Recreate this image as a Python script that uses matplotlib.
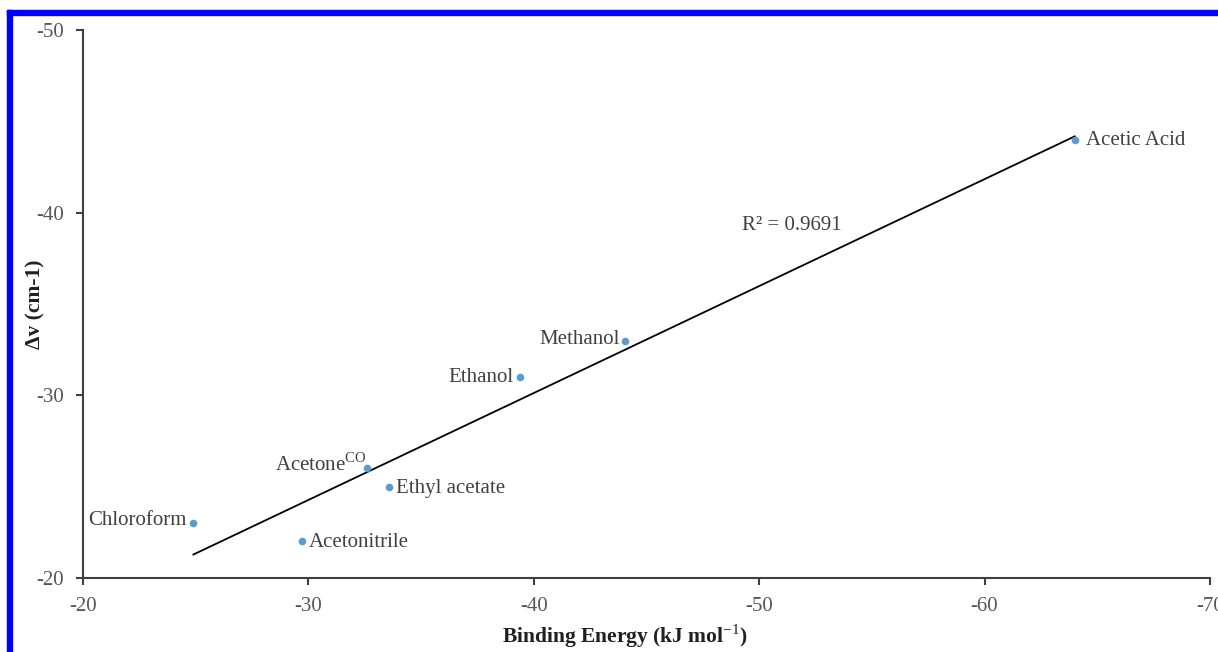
import numpy as np
import matplotlib
matplotlib.use('Agg')
import matplotlib.pyplot as plt
from matplotlib.patches import Rectangle

plt.rcParams['font.family'] = ['Liberation Serif', 'DejaVu Serif']
plt.rcParams['mathtext.fontset'] = 'custom'
plt.rcParams['mathtext.rm'] = 'Liberation Serif'
plt.rcParams['mathtext.bf'] = 'Liberation Serif:bold'
plt.rcParams['axes.unicode_minus'] = False

# data
solvents = ['Chloroform', 'Acetonitrile', 'Acetone$^{\\mathrm{CO}}$', 'Ethyl acetate',
            'Ethanol', 'Methanol', 'Acetic Acid']
binding_energy = [-24.9, -29.7, -32.6, -33.6, -39.4, -44.05, -64.0]
delta_nu = [-23.0, -22.0, -26.0, -25.0, -31.0, -33.0, -44.0]
r2_text = 'R² = 0.9691'
xticks = [-20, -30, -40, -50, -60, -70]
yticks = [-20, -30, -40, -50]

# label offsets in points, and alignment
label_pos = [(-5, 2, 'right'), (5, -1, 'left'), (0, 3, 'right'), (5, -1.5, 'left'),
             (-5, 0, 'right'), (-4, 1, 'right'), (8, -1, 'left')]

textgray = '#404040'
fig = plt.figure(figsize=(12.18, 6.52), dpi=100)
ax = fig.add_axes([0.0681, 0.1135, 0.9253, 0.8405])

x = np.array(binding_energy)
y = np.array(delta_nu)
k, b = np.polyfit(x, y, 1)
xl = np.array([x.min(), x.max()])
ax.plot(xl, k * xl + b, color='black', lw=1.3, zorder=2)
ax.scatter(x, y, s=30, color='#5B9BD5', zorder=3, linewidths=0)

for name, xi, yi, (dx, dy, ha) in zip(solvents, x, y, label_pos):
    ax.annotate(name, (xi, yi), xytext=(dx, dy), textcoords='offset points',
                ha=ha, va='center', fontsize=15, color=textgray)

ax.text(-49.25, -39.3, r2_text, ha='left', va='center', fontsize=15, color=textgray)

ax.set_xlim(-20, -70)
ax.set_ylim(-20, -50)
ax.set_xticks(xticks)
ax.set_yticks(yticks)
ax.tick_params(labelsize=15, labelcolor='#555555', color='#404040', length=5, width=1.5,
               direction='out', pad=9)
for s in ['top', 'right']:
    ax.spines[s].set_visible(False)
for s in ['left', 'bottom']:
    ax.spines[s].set_color('#404040')
    ax.spines[s].set_linewidth(1.5)

ax.set_xlabel('Binding Energy (kJ mol$^{\\mathrm{-1}}$)', fontsize=15.5, fontweight='bold',
              color='#202020')
ax.xaxis.set_label_coords(0.481, -0.081)
ax.set_ylabel('Δv (cm-1)', fontsize=15.5, fontweight='bold', color='#202020')
ax.yaxis.set_label_coords(-0.033, 0.5)

# blue frame at top and left
fig.patches.append(Rectangle((7 / 1218, 0), 5 / 1218, 1 - 10 / 652, transform=fig.transFigure,
                             color='#0000ff', zorder=10))
fig.patches.append(Rectangle((7 / 1218, 1 - 15 / 652), 1, 5 / 652, transform=fig.transFigure,
                             color='#0000ff', zorder=10))

fig.savefig('out.png', dpi=100)
